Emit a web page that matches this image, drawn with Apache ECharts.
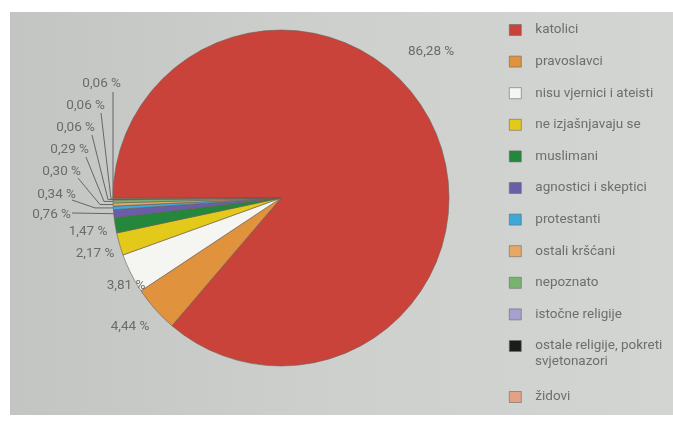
<!DOCTYPE html>
<html>
<head>
<meta charset="utf-8">
<script src="https://cdn.jsdelivr.net/npm/echarts@6/dist/echarts.min.js"></script>
<style>
html,body{margin:0;padding:0;background:#ffffff;}
#chart{width:673px;height:421px;}
</style>
</head>
<body>
<div id="chart"></div>
<script>
// ---- data ----
var categories = [
  'katolici', 'pravoslavci', 'nisu vjernici i ateisti', 'ne izjašnjavaju se',
  'muslimani', 'agnostici i skeptici', 'protestanti', 'ostali kršćani',
  'nepoznato', 'istočne religije', 'ostale religije, pokreti svjetonazori', 'židovi'
];
var values = [86.28, 4.44, 3.81, 2.17, 1.47, 0.76, 0.34, 0.30, 0.29, 0.06, 0.06, 0.06];
var legendLabels = [
  'katolici', 'pravoslavci', 'nisu vjernici i ateisti', 'ne izjašnjavaju se',
  'muslimani', 'agnostici i skeptici', 'protestanti', 'ostali kršćani',
  'nepoznato', 'istočne religije', 'ostale religije, pokreti', 'židovi'
];

// ---- style ----
var colors = ['#c9433a', '#e0923c', '#f5f5f2', '#e3c91a', '#23883b', '#6a5ea8',
              '#3ea9d8', '#e6a866', '#77b56f', '#a5a0d0', '#1c1c1c', '#e3a186'];
var CX = 281, CY = 198, R = 168;
var FONT = 'Roboto';
// label placement
var labelPlace = [
  {x: 408, y: 52, align: 'left'},
  {x: 130, y: 327, align: 'center'},
  {x: 126, y: 286, align: 'center'},
  {x: 95, y: 254, align: 'center'},
  {x: 88, y: 232, align: 'center'},
  {x: 71, y: 215, align: 'right', start: [72, 213]},
  {x: 76, y: 195, align: 'right', start: [72, 200], bend: [95, null]},
  {x: 81, y: 172, align: 'right', start: [78, 178], bend: [100, null]},
  {x: 89, y: 150, align: 'right', start: [86, 157], bend: [104, null]},
  {x: 95, y: 128, align: 'right', start: [92, 135], bend: [108, null]},
  {x: 105, y: 106, align: 'right', start: [101, 113], bend: [111, null]},
  {x: 121, y: 84, align: 'right', start: [113, 92], bend: [113, null]}
];

var total = values.reduce(function (a, b) { return a + b; }, 0);
function edgePoint(i) {
  var cum = 0;
  for (var k = 0; k < i; k++) cum += values[k];
  var mid = (cum + values[i] / 2) / total * 360;
  var a = (180 - mid) * Math.PI / 180;
  return [CX + R * Math.cos(a), CY - R * Math.sin(a)];
}

var data = categories.map(function (name, i) {
  return {
    name: name,
    value: values[i],
    itemStyle: {color: colors[i]},
    labelLine: {show: i >= 5}
  };
});

var legendText = {color: '#6e6e6e', fontSize: 13.5, fontFamily: FONT, lineHeight: 14, padding: [0, 0, 0, 9]};

var chart = echarts.init(document.getElementById('chart'), null, {renderer: 'canvas'});
chart.setOption({
  animation: false,
  backgroundColor: '#ffffff',
  graphic: [{
    type: 'rect', z: -10, silent: true,
    shape: {x: 10, y: 12, width: 663, height: 403},
    style: {
      fill: new echarts.graphic.LinearGradient(0, 0, 1, 0, [
        {offset: 0, color: '#c3c5c2'},
        {offset: 0.5, color: '#ced0cd'},
        {offset: 1, color: '#d3d5d2'}
      ])
    }
  }, {
    type: 'text', left: 535, top: 355,
    style: {text: 'svjetonazori', fill: '#6e6e6e', font: '13.5px Roboto'}
  }],
  legend: [{
    orient: 'vertical', left: 504, top: 18,
    data: categories.slice(0, 11),
    icon: 'rect', itemWidth: 12, itemHeight: 11, itemGap: 17.6,
    formatter: function (n) { return legendLabels[categories.indexOf(n)]; },
    itemStyle: {borderColor: '#6a6a6a', borderWidth: 0.6},
    textStyle: legendText,
    selectedMode: false
  }, {
    orient: 'vertical', left: 504, top: 385,
    data: categories.slice(11),
    icon: 'rect', itemWidth: 12, itemHeight: 11,
    formatter: function (n) { return legendLabels[categories.indexOf(n)]; },
    itemStyle: {borderColor: '#6a6a6a', borderWidth: 0.6},
    textStyle: legendText,
    selectedMode: false
  }],
  series: [{
    type: 'pie',
    center: [CX, CY],
    radius: R,
    startAngle: 180,
    clockwise: true,
    avoidLabelOverlap: false,
    itemStyle: {borderColor: '#6d5a52', borderWidth: 0.6},
    label: {
      show: true, position: 'outside',
      color: '#6b6b6b', fontSize: 13.5, fontFamily: FONT,
      formatter: function (p) { return p.value.toFixed(2).replace('.', ',') + ' %'; }
    },
    labelLine: {lineStyle: {color: '#5a5a5a', width: 0.9}},
    labelLayout: function (p) {
      var s = labelPlace[p.dataIndex];
      var out = {x: s.x, y: s.y, align: s.align, verticalAlign: 'middle'};
      if (s.start) {
        var e = edgePoint(p.dataIndex);
        var pts = [[e[0], e[1]]];
        if (s.bend) pts.push([s.bend[0], e[1]]);
        pts.push(s.start);
        out.labelLinePoints = pts;
      }
      return out;
    },
    data: data
  }]
});
</script>
</body>
</html>
